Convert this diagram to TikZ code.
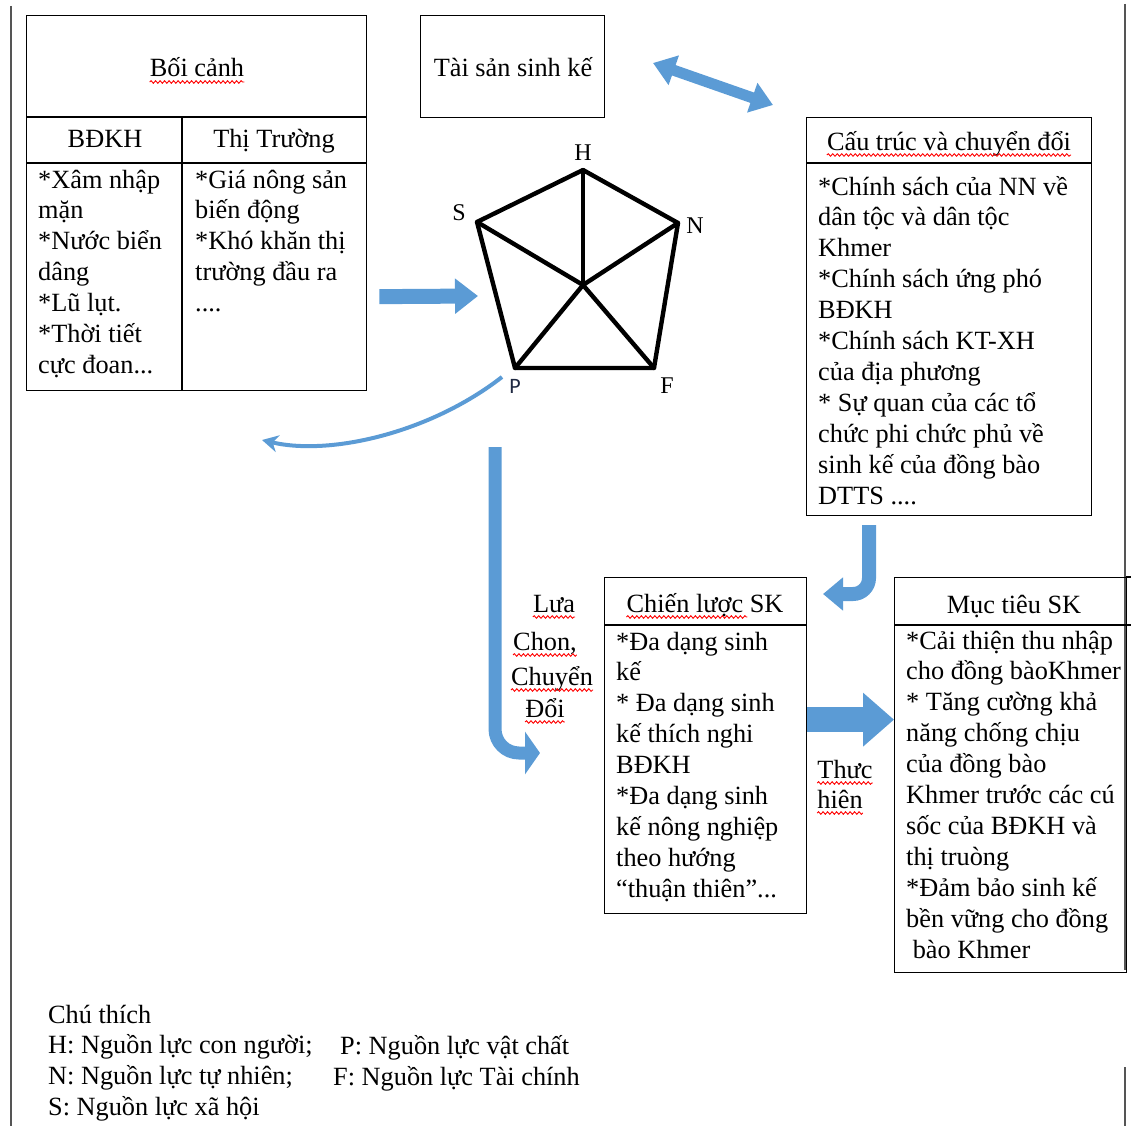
\documentclass[tikz,border=0pt]{standalone}
\usepackage{fontspec}
\setmainfont{Liberation Serif}
\newfontfamily\labelsans{Carlito}
\usetikzlibrary{arrows.meta,decorations.pathmorphing}
\definecolor{arrowblue}{RGB}{91,155,213}
\definecolor{edgegray}{RGB}{85,85,85}
\definecolor{plabel}{RGB}{30,40,65}
\newcommand{\txtsize}{\fontsize{26.3pt}{30.9pt}\selectfont}
\tikzset{
  frame/.style={draw, line width=1.3pt, inner sep=0pt, anchor=north west},
  rule/.style={line width=1.3pt},
  txt/.style={anchor=base west, align=left, inner sep=0pt, font=\txtsize},
  ttl/.style={anchor=base, inner sep=0pt, font=\txtsize},
  pent/.style={line width=4.4pt, line join=round, line cap=round},
  vlbl/.style={inner sep=0pt, font=\fontsize{24pt}{28pt}\selectfont},
  blk/.style={draw=arrowblue, line width=#1},
  squig/.style={draw=red, line width=0.9pt, decorate, decoration={snake, amplitude=1.3pt, segment length=4.5pt}},
  margin/.style={draw=edgegray, line width=2pt}
}
\begin{document}
\begin{tikzpicture}[x=1pt,y=-1pt]
\useasboundingbox (0,0) rectangle (1131,1126);

% page edges
\draw[margin] (11,6) -- (11,1126);
\draw[margin] (1125,4) -- (1125,970);
\draw[margin] (1125,1067) -- (1125,1126);

% context table (multi-line texts sit on their last baseline)
\node[frame, minimum width=340pt, minimum height=375pt] (boicanh) at (26,15) {};
\draw[rule] (26,117) -- (366,117);
\draw[rule] (26,163) -- (366,163);
\draw[rule] (182,117) -- (182,390);
\node[ttl] (tboicanh) at (197,77) {Bối cảnh};
\node[ttl] (tbdkh) at (105,148) {BĐKH};
\node[ttl] (tthitruong) at (274,148) {Thị Trường};
\node[txt] (bdkh) at (38,373.4) {*Xâm nhập\\mặn\\*Nước biển\\dâng\\*Lũ lụt.\\*Thời tiết\\cực đoan...};
\node[txt] (thitruong) at (195,311.6) {*Giá nông sản\\biến động\\*Khó khăn thị\\trường đầu ra\\....};

% assets
\node[frame, minimum width=184pt, minimum height=102pt] (taisan) at (420,15) {};
\node[ttl] (ttaisan) at (513,77) {Tài sản sinh kế};

% pentagon
\coordinate (H) at (583,170);
\coordinate (N) at (678,223);
\coordinate (F) at (654,368);
\coordinate (P) at (515,368);
\coordinate (S) at (477,222);
\coordinate (O) at (583,285);
\draw[pent] (H) -- (N) -- (F) -- (P) -- (S) -- cycle;
\foreach \v in {H,N,F,P,S}
  \draw[pent] (O) -- (\v);
\node[vlbl] (lH) at (583,153) {H};
\node[vlbl] (lS) at (459,213) {S};
\node[vlbl] (lN) at (695,226) {N};
\node[vlbl] (lF) at (667,386) {F};
\node[inner sep=0pt, text=plabel, font=\labelsans\fontsize{22pt}{26pt}\selectfont] (lP) at (515,386) {P};

% structures
\node[frame, minimum width=285pt, minimum height=398pt] (cautruc) at (806,117) {};
\draw[rule] (806,163) -- (1091,163);
\node[ttl] (tcautruc) at (949,150) {Cấu trúc và chuyển đổi};
\node[txt] (bcautruc) at (818,504) {*Chính sách của NN về\\dân tộc và dân tộc\\Khmer\\*Chính sách ứng phó\\BĐKH\\*Chính sách KT-XH\\của địa phương\\* Sự quan của các tổ\\chức phi chức phủ về\\sinh kế của đồng bào\\DTTS ....};

% strategies
\node[frame, minimum width=202pt, minimum height=336pt] (chienluoc) at (604,577) {};
\draw[rule] (604,625) -- (806,625);
\node[ttl] (tchienluoc) at (705,612) {Chiến lược SK};
\node[txt] (bchienluoc) at (616,897.2) {*Đa dạng sinh\\kế\\* Đa dạng sinh\\kế thích nghi\\BĐKH\\*Đa dạng sinh\\kế nông nghiệp\\theo hướng\\“thuận thiên”...};

% outcomes
\node[frame, minimum width=232pt, minimum height=395pt] (muctieu) at (894,577) {};
\draw[rule] (1126,577) -- (1131,577);
\draw[rule] (894,625) -- (1131,625);
\node[ttl] (tmuctieu) at (1014,613) {Mục tiêu SK};
\node[txt] (bmuctieu) at (906,958) {*Cải thiện thu nhập\\cho đồng bàoKhmer\\* Tăng cường khả\\năng chống chịu\\của đồng bào\\Khmer trước các cú\\sốc của BĐKH và\\thị truòng\\*Đảm bảo sinh kế\\bền vững cho đồng\\\ bào Khmer};

% side labels
\node[ttl] (lua) at (554,612) {Lưa};
\node[ttl] (chon) at (545,650) {Chon,};
\node[ttl] (chuyen) at (552,685) {Chuyển};
\node[ttl] (doi) at (545,717) {Đổi};
\node[ttl] (thuc) at (845,778) {Thưc};
\node[ttl] (hien) at (840,808) {hiên};

% legend
\node[txt] (chuthich) at (48,1115.7) {Chú thích\\H: Nguồn lực con người;\\N: Nguồn lực tự nhiên;\\S: Nguồn lực xã hội};
\node[txt] (legP) at (340,1054) {P: Nguồn lực vật chất};
\node[txt] (legF) at (333,1085) {F: Nguồn lực Tài chính};

% spelling marks
\foreach \w in {tboicanh,tcautruc,lua,chon,chuyen,doi,thuc,hien}
  \draw[squig] ([yshift=-5pt]\w.base west) -- ([yshift=-5pt]\w.base east);
\draw[squig] ([yshift=-5pt]tchienluoc.base west) -- ++(121,0);

% block arrows
\coordinate (a1) at (478,296);
\draw[blk=15pt, -{Triangle[length=23pt,width=34pt]}] ([xshift=12pt,yshift=-93.5pt]boicanh.east) -- (a1);
\coordinate (d1) at (653,63);
\coordinate (d2) at (773,105);
\draw[blk=11pt, {Triangle[length=22pt,width=30pt]}-{Triangle[length=22pt,width=30pt]}] (d1) -- (d2);
\coordinate (j1) at (869,525);
\coordinate (j2) at (823,594);
\draw[blk=14pt, rounded corners=16pt, -{Triangle[length=20pt,width=32pt]}] (j1) -- (j1 |- j2) -- (j2);
\coordinate (l1) at (495,447);
\coordinate (l2) at (540,753);
\draw[blk=13pt, rounded corners=24pt, -{Triangle[length=15pt,width=42pt]}] (l1) -- (l1 |- l2) -- (l2);
\draw[blk=25pt, -{Triangle[length=31pt,width=52pt]}] ([yshift=26pt]chienluoc.east) -- ([yshift=55.5pt]muctieu.west);

% thin curved arrow
\coordinate (c1) at (502,377);
\coordinate (c2) at (262,440);
\draw[blk=4pt, -{Stealth[length=16pt,width=17pt,inset=5pt]}] (c1) .. controls (430,433) and (330,456) .. (c2);
\end{tikzpicture}
\end{document}
